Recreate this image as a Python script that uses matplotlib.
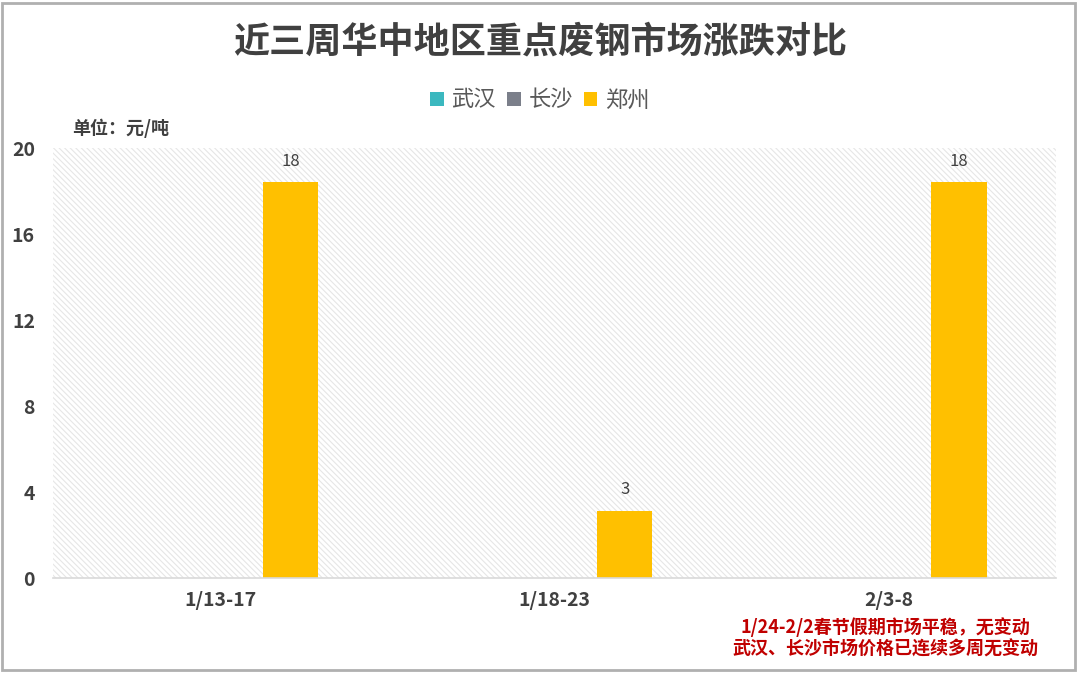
import matplotlib
matplotlib.use("Agg")
from matplotlib import pyplot as plt
from matplotlib.patches import Rectangle
import numpy as np

plt.rcParams['font.family'] = ['Noto Sans CJK SC', 'DejaVu Sans']
plt.rcParams['hatch.color'] = '#e6e6e6'
plt.rcParams['hatch.linewidth'] = 0.8

periods = ["1/13-17", "1/18-23", "2/3-8"]
series_names = ["武汉", "长沙", "郑州"]
wuhan = [0, 0, 0]
changsha = [0, 0, 0]
zhengzhou = [18.4, 3.1, 18.4]
colors = ["#3bb8bf", "#7b7f8a", "#ffc000"]
y_ticks = [0, 4, 8, 12, 16, 20]

fig = plt.figure(figsize=(10.8, 6.83), dpi=100)
ax = fig.add_axes([53/1080, 1 - 578/683, 1003/1080, 430/683])

# hatched background of plot area
bg = Rectangle((0, 0), 1, 1, transform=ax.transAxes, facecolor='white',
               edgecolor='#e6e6e6', hatch='\\\\\\\\\\\\', lw=0, zorder=0)
ax.add_patch(bg)

x = np.arange(len(periods))
width = 0.165
offs = [-0.21, 0, 0.21]
for vals, name, c, o in zip([wuhan, changsha, zhengzhou], series_names, colors, offs):
    bars = ax.bar(x + o, vals, width, color=c, label=name, zorder=2)
    if name == "郑州":
        for b, v in zip(bars, vals):
            ax.text(b.get_x() + b.get_width()/2, v + 0.6, "%.0f" % v,
                    ha='center', va='bottom', fontsize=12, color='#404040')

ax.set_xlim(-0.5, 2.5)
ax.set_ylim(0, 20)
ax.set_yticks(y_ticks)
ax.set_yticklabels([str(t) for t in y_ticks], fontsize=14, fontweight='bold', color='#404040')
ax.set_xticks(x)
ax.set_xticklabels(periods, fontsize=14, fontweight='bold', color='#404040')
ax.tick_params(length=0, pad=9)
ax.tick_params(axis='y', pad=13)
for s in ['top', 'right', 'left']:
    ax.spines[s].set_visible(False)
ax.spines['bottom'].set_color('#d9d9d9')
ax.spines['bottom'].set_linewidth(1.2)

fig.text(0.5, 1 - 42/683, "近三周华中地区重点废钢市场涨跌对比", ha='center', va='center',
         fontsize=26, fontweight='bold', color='#404040')
fig.text(72/1080, 1 - 128/683, "单位：元/吨", ha='left', va='center',
         fontsize=13, fontweight='bold', color='#404040')

leg = fig.legend(loc='center', bbox_to_anchor=(0.5, 1 - 100/683), ncol=3, frameon=False,
                 fontsize=16, handlelength=0.6, handleheight=0.6, handletextpad=0.35,
                 columnspacing=0.5)
for t in leg.get_texts():
    t.set_color('#595959')

fig.text(885/1080, 1 - 627/683, "1/24-2/2春节假期市场平稳，无变动", ha='center', va='center',
         fontsize=13, fontweight='bold', color='#c00000')
fig.text(885/1080, 1 - 649/683, "武汉、长沙市场价格已连续多周无变动", ha='center', va='center',
         fontsize=13, fontweight='bold', color='#c00000')

border = Rectangle((2/1080, 1 - 670/683), 1073/1080, 667/683, transform=fig.transFigure,
                   fill=False, edgecolor='#b0b0b0', lw=2)
fig.patches.append(border)

fig.savefig("out.png", dpi=100)
